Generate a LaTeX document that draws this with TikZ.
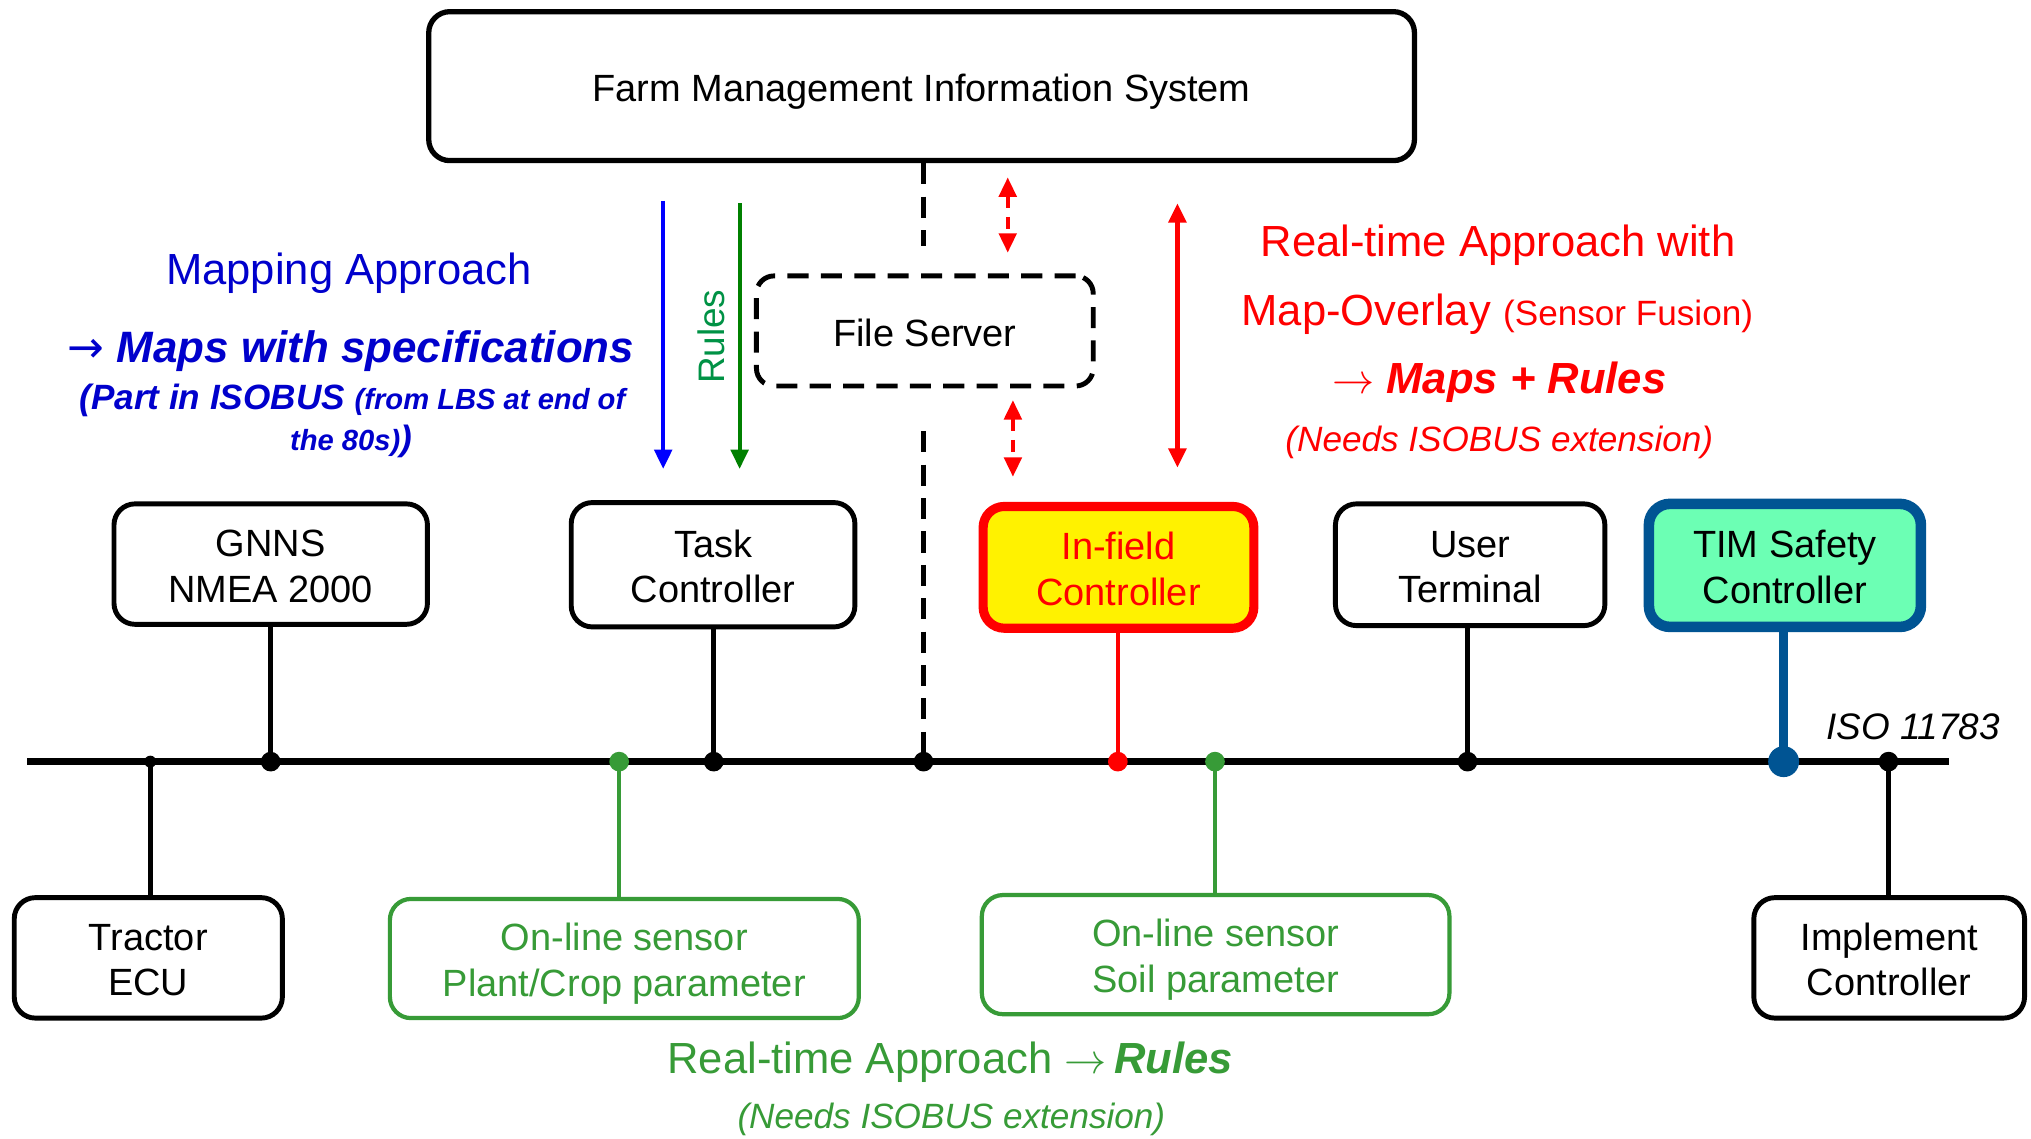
\documentclass[tikz,border=0pt]{standalone}
\usepackage{fontspec}
\setmainfont{Liberation Sans}
\newfontfamily\arrowfont{DejaVu Sans}
\usetikzlibrary{arrows.meta}

\definecolor{mapblue}{RGB}{0,0,204}
\definecolor{arrowblue}{RGB}{0,0,255}
\definecolor{arrowgreen}{RGB}{0,128,0}
\definecolor{rulesgreen}{RGB}{0,146,69}
\definecolor{sensorgreen}{RGB}{55,155,55}
\definecolor{timblue}{RGB}{0,84,147}
\definecolor{timfill}{RGB}{108,255,180}

% one drawing unit
\newcommand\pxu{0.012953cm}
% struts that place box text: top of first line, bottom of last line
\newcommand\ts{\rule{0pt}{11.2pt}}
\newcommand\ds{\rule[-2.6pt]{0pt}{2.6pt}}
\newcommand\fs[2]{\fontsize{#1}{#2}\selectfont}

\tikzset{
  unitbox/.style={draw, line width=1.4pt, rounded corners=6pt, inner sep=0pt,
    align=center, font=\fs{10.8pt}{13pt}},
  sensorbox/.style={unitbox, draw=sensorgreen, text=sensorgreen, line width=1.2pt},
  link/.style={line width=1.3pt},
  tap/.style={radius=2.8pt},
  tri/.tip={Triangle[width=5pt,length=5.5pt]},
  note/.style={anchor=base, inner sep=0pt},
  dashlink/.style={line width=1.3pt, dash pattern=on 6pt off 3.5pt},
}

\begin{document}
\begin{tikzpicture}[x=\pxu, y=-\pxu]
\fill[white] (0,0) rectangle (1568,879);
\useasboundingbox (0,0) rectangle (1568,879);

% ---------- management level ----------
\node[unitbox, line width=1.5pt, minimum width=761*\pxu, minimum height=115*\pxu]
  (fmis) at (711.5,66.5) {\ts\ds Farm Management Information System};
\node[unitbox, dash pattern=on 6pt off 3.5pt, rounded corners=5pt,
  minimum width=260*\pxu, minimum height=85*\pxu]
  (fs) at (714,255.5) {\ts\ds File Server};

% ---------- ISOBUS nodes above the bus ----------
\node[unitbox, minimum width=242*\pxu, minimum height=93*\pxu] (gnss) at (209,435.5)
  {\ts GNNS\\\ds NMEA 2000};
\node[unitbox, minimum width=219*\pxu, minimum height=96*\pxu] (task) at (550.5,436)
  {\ts Task\\\ds Controller};
\node[unitbox, draw=red, fill=yellow, text=red, line width=2.6pt,
  minimum width=209*\pxu, minimum height=94*\pxu] (infield) at (863.5,438)
  {\ts In-field\\\ds Controller};
\node[unitbox, minimum width=208*\pxu, minimum height=94*\pxu] (user) at (1135,436)
  {\ts User\\\ds Terminal};
\node[unitbox, draw=timblue, fill=timfill, line width=3pt,
  minimum width=210*\pxu, minimum height=95*\pxu] (tim) at (1378,436.5)
  {\ts TIM Safety\\\ds Controller};

% ---------- ISOBUS nodes below the bus ----------
\node[unitbox, minimum width=207*\pxu, minimum height=93*\pxu] (tractor) at (114.5,739.5)
  {\ts Tractor\\\ds ECU};
\node[sensorbox, minimum width=362*\pxu, minimum height=92*\pxu] (plant) at (482,740)
  {\ts On-line sensor\\\ds Plant/Crop parameter};
\node[sensorbox, minimum width=361*\pxu, minimum height=92*\pxu] (soil) at (938.5,737)
  {\ts On-line sensor\\\ds Soil parameter};
\node[unitbox, minimum width=209*\pxu, minimum height=93*\pxu] (implement) at (1458.5,739.5)
  {\ts Implement\\\ds Controller};

% ---------- bus and taps ----------
\coordinate (busL) at (21,588);
\coordinate (busR) at (1505,588);
\coordinate (tapTr) at (116,588);
\coordinate (tapGn) at (209,588);
\coordinate (tapPl) at (478,588);
\coordinate (tapTa) at (551,588);
\coordinate (tapFs) at (713,588);
\coordinate (tapIn) at (863,588);
\coordinate (tapSo) at (938,588);
\coordinate (tapUs) at (1133,588);
\coordinate (tapTi) at (1377,588);
\coordinate (tapIm) at (1458,588);

\draw[line width=1.8pt] (busL) -- (busR);

\draw[link] (tapTr) -- (tapTr |- tractor.north);
\draw[link] (tapGn |- gnss.south) -- (tapGn);
\draw[link, sensorgreen] (tapPl) -- (tapPl |- plant.north);
\draw[link] (tapTa |- task.south) -- (tapTa);
\draw[link, red] (tapIn |- infield.south) -- (tapIn);
\draw[link, sensorgreen] (tapSo) -- (tapSo |- soil.north);
\draw[link] (tapUs |- user.south) -- (tapUs);
\draw[line width=2.6pt, timblue] (tapTi |- tim.south) -- (tapTi);
\draw[link] (tapIm) -- (tapIm |- implement.north);

% file server link (dashed)
\coordinate (fsUpEnd) at (713,190);
\coordinate (fsLowStart) at (713,333);
\draw[dashlink] (fmis.south -| tapFs) -- (fsUpEnd);
\draw[dashlink] (fsLowStart) -- (tapFs);

\fill (tapTr) circle[radius=1.7pt];
\fill (tapGn) circle[tap];
\fill[sensorgreen] (tapPl) circle[tap];
\fill (tapTa) circle[tap];
\fill (tapFs) circle[tap];
\fill[red] (tapIn) circle[tap];
\fill[sensorgreen] (tapSo) circle[tap];
\fill (tapUs) circle[tap];
\fill[timblue] (tapTi) circle[radius=4.4pt];
\fill (tapIm) circle[tap];

\node[note, font=\fs{10.5pt}{12pt}\itshape] (iso) at (1477,571) {ISO 11783};

% ---------- data flow arrows ----------
\coordinate (blueA) at (512,155);  \coordinate (blueB) at (512,362);
\coordinate (greenA) at (571,157); \coordinate (greenB) at (571,362);
\coordinate (redA) at (909,157);   \coordinate (redB) at (909,361);
\coordinate (fsUpA) at (778,137);  \coordinate (fsUpB) at (778,195);
\coordinate (fsLoA) at (782,309);  \coordinate (fsLoB) at (782,368);

\draw[line width=1.1pt, arrowblue, -tri] (blueA) -- (blueB);
\draw[line width=1.1pt, arrowgreen, -tri] (greenA) -- (greenB);
\draw[line width=1.2pt, red, tri-tri] (redA) -- (redB);
\draw[line width=1pt, red, dash pattern=on 3.5pt off 2.5pt, tri-tri] (fsUpA) -- (fsUpB);
\draw[line width=1pt, red, dash pattern=on 3.5pt off 2.5pt, tri-tri] (fsLoA) -- (fsLoB);

\node[rotate=90, anchor=base, inner sep=0pt, text=rulesgreen, font=\fs{10.5pt}{12pt}]
  (rulesTag) at (559,260) {Rules};

% ---------- mapping approach ----------
\node[note, text=mapblue, font=\fs{12.4pt}{14pt}] (mapA) at (269.5,220) {Mapping Approach};
\node[note, text=mapblue, font=\fs{12.5pt}{14pt}\bfseries\itshape] (mapB) at (271,279.5)
  {{\arrowfont\mdseries\upshape →} Maps with specifications};
\node[note, text=mapblue, font=\bfseries\itshape] (mapC) at (272,316)
  {\fs{10pt}{12pt}(Part in ISOBUS \fs{8.3pt}{10pt}(from LBS at end of};
\node[note, text=mapblue, font=\bfseries\itshape] (mapD) at (271,348)
  {\fs{8.3pt}{10pt}the 80s)\fs{10pt}{12pt})};

% ---------- real-time approach with map overlay ----------
\node[note, text=red, font=\fs{12.4pt}{14pt}] (rtA) at (1156.5,198) {Real-time Approach with};
\node[note, text=red, font=\fs{12.4pt}{14pt}] (rtB) at (1156,251)
  {Map-Overlay {\fs{10pt}{12pt}(Sensor Fusion)}};
\node[note, text=red, font=\fs{12.4pt}{14pt}] (rtC) at (1157.5,303.7)
  {$\rightarrow$ {\bfseries\itshape Maps + Rules}};
\node[note, text=red, font=\fs{10pt}{12pt}\itshape] (rtD) at (1157.5,348.7)
  {(Needs ISOBUS extension)};

% ---------- real-time approach with rules ----------
\node[note, text=sensorgreen, font=\fs{12.4pt}{14pt}] (gA) at (733.5,828.5)
  {Real-time Approach $\rightarrow$\,{\bfseries\itshape Rules}};
\node[note, text=sensorgreen, font=\fs{10pt}{12pt}\itshape] (gB) at (734.5,871)
  {(Needs ISOBUS extension)};
\end{tikzpicture}
\end{document}
